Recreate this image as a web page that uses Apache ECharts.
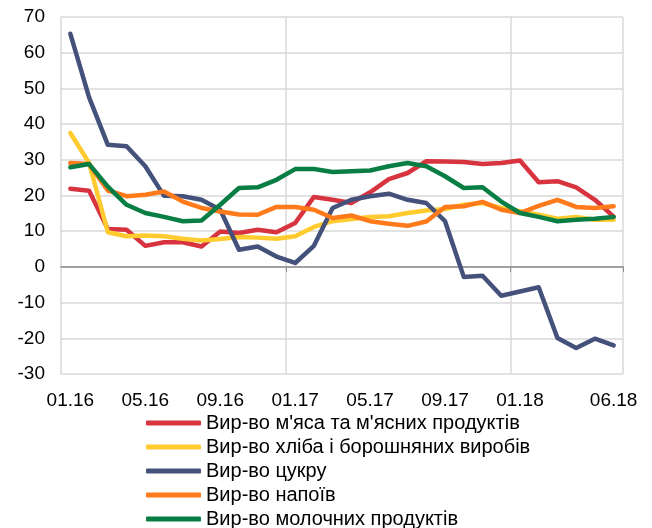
<!DOCTYPE html>
<html>
<head>
<meta charset="utf-8">
<script src="https://cdn.jsdelivr.net/npm/echarts@6/dist/echarts.min.js"></script>
<style>
  html, body { margin: 0; padding: 0; background: #fff; }
  #chart { width: 652px; height: 528px; }
</style>
</head>
<body>
<div id="chart"></div>
<script>
var months = ['01.16','02.16','03.16','04.16','05.16','06.16','07.16','08.16','09.16','10.16','11.16','12.16',
              '01.17','02.17','03.17','04.17','05.17','06.17','07.17','08.17','09.17','10.17','11.17','12.17',
              '01.18','02.18','03.18','04.18','05.18','06.18'];

var meat  = [21.9, 21.3, 10.6, 10.4, 5.9, 6.9, 6.9, 5.7, 9.9, 9.5, 10.4, 9.7,
             12.3, 19.6, 18.8, 17.9, 20.9, 24.6, 26.3, 29.6, 29.5, 29.4, 28.8, 29.1,
             29.8, 23.7, 24.0, 22.3, 18.8, 14.1];
var bread = [37.5, 29.1, 9.7, 8.6, 8.8, 8.6, 7.9, 7.4, 7.8, 8.4, 8.2, 7.9,
             8.6, 11.2, 12.8, 13.4, 14.0, 14.2, 15.1, 15.8, 16.2, 17.4, 17.9, 16.5,
             15.6, 14.6, 13.5, 14.0, 13.2, 13.2];
var sugar = [65.3, 47.5, 34.2, 33.8, 28.2, 19.9, 19.8, 18.8, 16.0, 4.8, 5.7, 2.9,
             1.1, 5.9, 16.5, 18.8, 19.8, 20.5, 18.8, 17.9, 12.8, -2.8, -2.5, -8.1,
             -6.9, -5.7, -19.9, -22.7, -20.1, -22.0];
var drinks = [29.1, 28.8, 21.4, 19.8, 20.2, 21.1, 18.3, 16.5, 15.5, 14.7, 14.6, 16.8,
              16.8, 16.0, 13.7, 14.4, 12.8, 12.1, 11.5, 12.7, 16.8, 17.0, 18.2, 16.0,
              15.1, 17.1, 18.8, 16.8, 16.5, 17.0];
var dairy = [27.9, 28.8, 22.5, 17.4, 15.1, 14.0, 12.8, 13.0, 17.4, 22.1, 22.3, 24.4,
             27.4, 27.4, 26.6, 26.8, 27.0, 28.2, 29.1, 28.2, 25.4, 22.1, 22.3, 18.3,
             15.1, 14.0, 12.8, 13.2, 13.5, 14.0];

var names = ['Вир-во м\'яса та м\'ясних продуктів', 'Вир-во хліба і борошняних виробів',
             'Вир-во цукру', 'Вир-во напоїв', 'Вир-во молочних продуктів'];
var colors = ['#d7343f', '#ffcb2f', '#44527b', '#ff7a1a', '#087e45'];
var values = [meat, bread, sugar, drinks, dairy];

var font = 'Liberation Sans, Arial, sans-serif';

var series = [];
for (var i = 0; i < names.length; i++) {
  series.push({
    name: names[i],
    type: 'line',
    data: values[i],
    symbol: 'none',
    lineStyle: { width: 4.5, color: colors[i], cap: 'round', join: 'round' },
    itemStyle: { color: colors[i] }
  });
}

var chart = echarts.init(document.getElementById('chart'));
chart.setOption({
  animation: false,
  color: colors,
  grid: { left: 61, right: 29, top: 17, bottom: 154, containLabel: false },
  legend: {
    orient: 'vertical',
    left: 146,
    top: 413,
    height: 200,
    padding: 0,
    icon: 'roundRect',
    itemWidth: 55,
    itemHeight: 5,
    itemGap: 4,
    textStyle: { fontFamily: font, fontSize: 20, color: '#000', lineHeight: 18 },
    data: names
  },
  xAxis: [
    {
      type: 'category',
      data: months,
      boundaryGap: true,
      position: 'bottom',
      axisLine: { show: false, onZero: false },
      axisTick: { show: false },
      axisLabel: {
        margin: 17,
        fontFamily: font,
        fontSize: 19,
        color: '#000',
        interval: function (index) { return (index % 4 === 0 && index <= 24) || index === 29; }
      },
      splitLine: {
        show: true,
        interval: function (index) { return index === 12 || index === 24; },
        lineStyle: { color: '#d9d9d9', width: 1.5 }
      }
    },
    {
      type: 'category',
      data: months,
      boundaryGap: true,
      position: 'top',
      axisLine: { show: true, onZero: true, lineStyle: { color: '#8c8c8c', width: 1.5 } },
      axisTick: {
        show: true,
        inside: true,
        length: 5,
        interval: function (index) { return index === 12 || index === 24; },
        lineStyle: { color: '#8c8c8c' }
      },
      axisLabel: { show: false },
      splitLine: { show: false }
    }
  ],
  yAxis: {
    type: 'value',
    min: -30,
    max: 70,
    interval: 10,
    axisLine: { show: true, lineStyle: { color: '#d9d9d9', width: 1.5 } },
    axisTick: { show: false },
    axisLabel: { margin: 16, fontFamily: font, fontSize: 19, color: '#000' },
    splitLine: { lineStyle: { color: '#d9d9d9', width: 1.5 } }
  },
  series: series
});
</script>
</body>
</html>
